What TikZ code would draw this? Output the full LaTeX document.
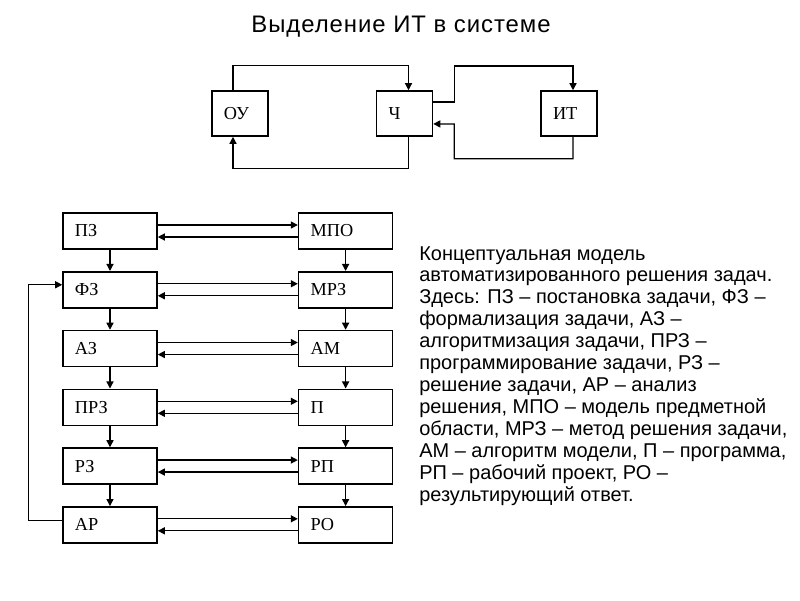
\documentclass[tikz,border=0pt]{standalone}
\usepackage{fontspec}
\setmainfont{Liberation Sans}
\newfontfamily\blockfont{Liberation Serif}
\usetikzlibrary{arrows.meta,positioning,calc}

\begin{document}
\begin{tikzpicture}[
  x=0.025cm,y=-0.025cm,
  node distance=0.53cm and 3.5cm,
  blk/.style={draw=black,line width=1.1pt,fill=white,font=\blockfont\fontsize{13}{14}\selectfont,align=left,text width=1.75cm,inner xsep=0.3cm,minimum height=0.9cm},
  topblk/.style={blk,text width=0.8cm,minimum height=1.125cm},
  arr/.style={line width=0.9pt,-{Triangle[length=5pt,width=5pt]}},
  title/.style={font=\fontsize{17}{20}\selectfont\addfontfeature{LetterSpace=4}},
  note/.style={font=\fontsize{14.2}{15.6}\selectfont,align=left,anchor=north west,inner sep=0pt},
]
\useasboundingbox (0,0) rectangle (800,600);
\node[title] (head) at (401,27) {Выделение ИТ в системе};
\node[topblk] (ou) at (240,113.5) {ОУ};
\node[topblk] (ch) at (404.5,113.5) {Ч};
\node[topblk] (it) at (569,113.5) {ИТ};
\draw[arr] ([xshift=-0.175cm]ou.north) -- ++(0,-25) -| ([xshift=0.1cm]ch.north);
\draw[arr] ([xshift=0.1cm]ch.south) -- ++(0,32) -| ([xshift=-0.175cm]ou.south);
\draw[arr] ([yshift=0.29cm]ch.east) -- ++(21,0) -- ++(0,-36) -| ([xshift=0.1cm]it.north);
\draw[arr] ([xshift=0.1cm]it.south) -- ++(0,22) -| ($(ch.east)+(21,10.5)$) -- ([yshift=-0.26cm]ch.east);

\node[blk] (pz) at (110,231) {ПЗ};
\node[blk,below=of pz] (fz) {ФЗ};
\node[blk,below=of fz] (az) {АЗ};
\node[blk,below=of az] (prz) {ПРЗ};
\node[blk,below=of prz] (rz) {РЗ};
\node[blk,below=of rz] (ar) {АР};
\node[blk,right=of pz] (mpo) {МПО};
\node[blk,right=of fz] (mrz) {МРЗ};
\node[blk,right=of az] (am) {АМ};
\node[blk,right=of prz] (p) {П};
\node[blk,right=of rz] (rp) {РП};
\node[blk,right=of ar] (ro) {РО};

\draw[arr] ([yshift=0.15cm]pz.east) -- ([yshift=0.15cm]mpo.west);
\draw[arr] ([yshift=-0.15cm]mpo.west) -- ([yshift=-0.15cm]pz.east);
\draw[arr] ([yshift=0.15cm]fz.east) -- ([yshift=0.15cm]mrz.west);
\draw[arr] ([yshift=-0.15cm]mrz.west) -- ([yshift=-0.15cm]fz.east);
\draw[arr] ([yshift=0.15cm]az.east) -- ([yshift=0.15cm]am.west);
\draw[arr] ([yshift=-0.15cm]am.west) -- ([yshift=-0.15cm]az.east);
\draw[arr] ([yshift=0.15cm]prz.east) -- ([yshift=0.15cm]p.west);
\draw[arr] ([yshift=-0.15cm]p.west) -- ([yshift=-0.15cm]prz.east);
\draw[arr] ([yshift=0.15cm]rz.east) -- ([yshift=0.15cm]rp.west);
\draw[arr] ([yshift=-0.15cm]rp.west) -- ([yshift=-0.15cm]rz.east);
\draw[arr] ([yshift=0.15cm]ar.east) -- ([yshift=0.15cm]ro.west);
\draw[arr] ([yshift=-0.15cm]ro.west) -- ([yshift=-0.15cm]ar.east);

\draw[arr] (pz) -- (fz);
\draw[arr] (fz) -- (az);
\draw[arr] (az) -- (prz);
\draw[arr] (prz) -- (rz);
\draw[arr] (rz) -- (ar);
\draw[arr] (mpo) -- (mrz);
\draw[arr] (mrz) -- (am);
\draw[arr] (am) -- (p);
\draw[arr] (p) -- (rp);
\draw[arr] (rp) -- (ro);
\draw[arr] ([yshift=0.1cm]ar.west) -- ++(-34,0) |- ([yshift=0.125cm]fz.west);

\node[note] (legend) at (419,246) {Концептуальная модель\\
автоматизированного решения задач.\\
Здесь: ПЗ – постановка задачи, ФЗ –\\
формализация задачи, АЗ –\\
алгоритмизация задачи, ПРЗ –\\
программирование задачи, РЗ –\\
решение задачи, АР – анализ\\
решения, МПО – модель предметной\\
области, МРЗ – метод решения задачи,\\
АМ – алгоритм модели, П – программа,\\
РП – рабочий проект, РО –\\
результирующий ответ.};
\end{tikzpicture}
\end{document}
